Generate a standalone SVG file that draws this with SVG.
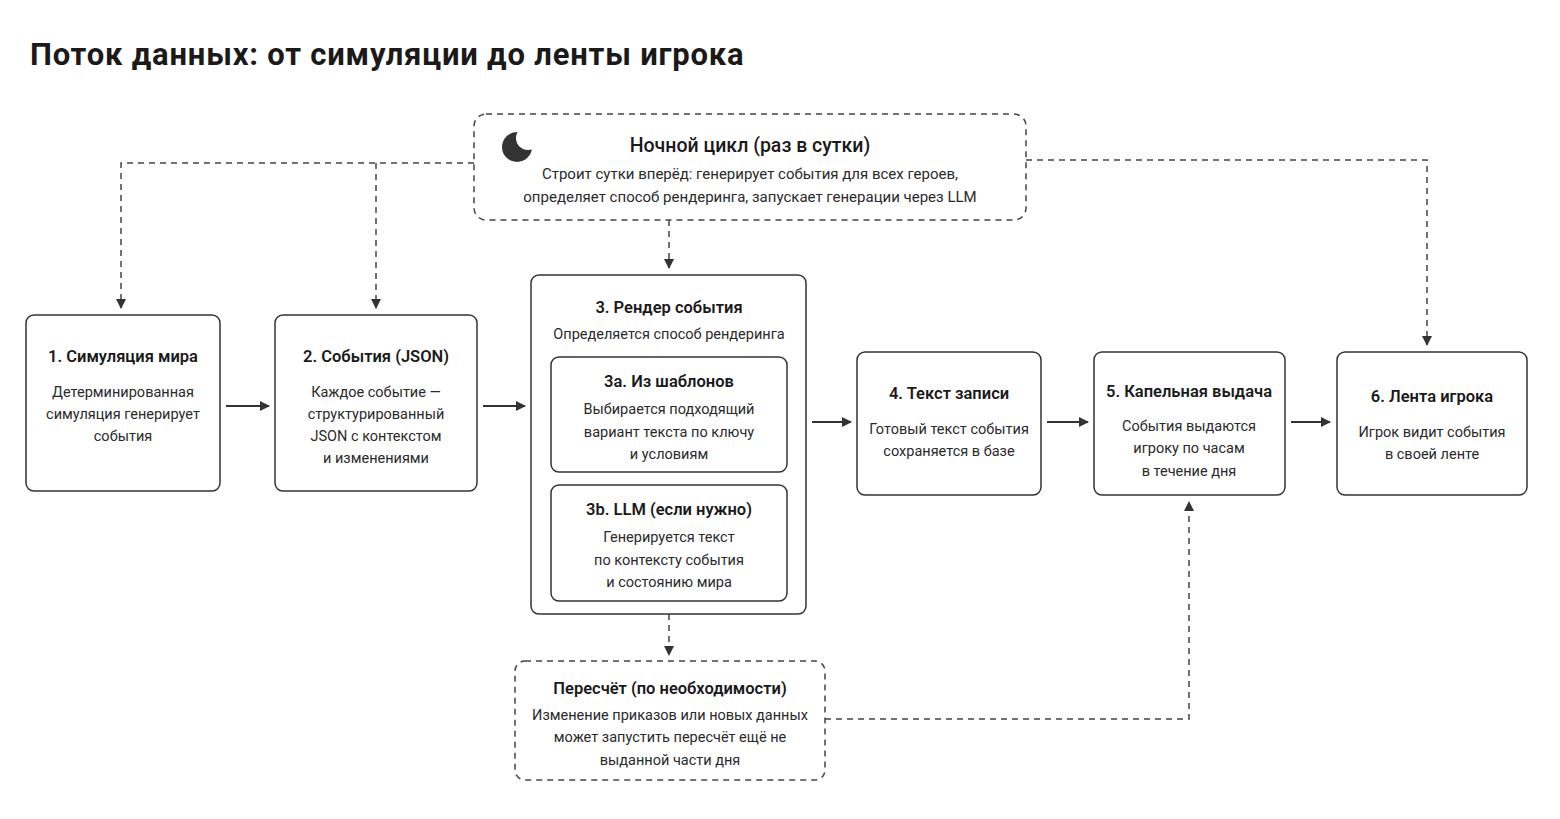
<svg xmlns="http://www.w3.org/2000/svg" width="1560" height="819" viewBox="0 0 1560 819">
<defs>
<marker id="a" viewBox="0 0 10 10" refX="9" refY="5" markerWidth="10" markerHeight="10" markerUnits="userSpaceOnUse" orient="auto"><path d="M0,0L10,5L0,10z" fill="#333"/></marker>
<mask id="m"><rect x="490" y="120" width="60" height="60" fill="#fff"/><circle cx="528" cy="138" r="12" fill="#000"/></mask>
<style>
text{font-family:Roboto,"Noto Sans",sans-serif;fill:#1a1a1a;text-anchor:middle}
.t{font-size:16.5px;font-weight:600}
.b{font-size:14.5px;fill:#2a2a2a}
.n{fill:#fff;stroke:#333;stroke-width:1.5}
.d{fill:#fff;stroke:#444;stroke-width:1.5;stroke-dasharray:6 5}
.s{fill:none;stroke:#333;stroke-width:2;marker-end:url(#a)}
.ds{fill:none;stroke:#444;stroke-width:1.5;stroke-dasharray:6 5;marker-end:url(#a)}
</style>
</defs>
<rect width="1560" height="819" fill="#fff"/>
<text x="30" y="65" style="text-anchor:start;font-size:31px;font-weight:700;letter-spacing:0.8px">Поток данных: от симуляции до ленты игрока</text>
<g id="connectors">
<path class="ds" d="M474,163H121V308"/>
<path class="ds" d="M376,163V308"/>
<path class="ds" d="M1026,160H1427V345"/>
<path class="ds" d="M669,220V268"/>
<path class="ds" d="M669,614V655"/>
<path class="ds" d="M825,719H1189V502"/>
<path class="s" d="M226,406H269"/>
<path class="s" d="M483,406H525"/>
<path class="s" d="M812,422H851"/>
<path class="s" d="M1047,422H1088"/>
<path class="s" d="M1291,422H1330"/>
</g>
<g id="night">
<rect class="d" x="474" y="114" width="552" height="106" rx="12"/>
<circle cx="517" cy="147" r="15" fill="#333" mask="url(#m)"/>
<text x="750" y="152" style="font-size:19.5px;font-weight:500">Ночной цикл (раз в сутки)</text>
<text class="b" x="750" y="179" style="font-size:15px">Строит сутки вперёд: генерирует события для всех героев,</text>
<text class="b" x="750" y="202" style="font-size:15px">определяет способ рендеринга, запускает генерации через LLM</text>
</g>
<g id="n1">
<rect class="n" x="26" y="315" width="194" height="176" rx="8"/>
<text class="t" x="123" y="362">1. Симуляция мира</text>
<text class="b" x="123" y="397">Детерминированная</text>
<text class="b" x="123" y="419">симуляция генерирует</text>
<text class="b" x="123" y="441">события</text>
</g>
<g id="n2">
<rect class="n" x="275" y="315" width="202" height="176" rx="8"/>
<text class="t" x="376" y="362">2. События (JSON)</text>
<text class="b" x="376" y="397">Каждое событие —</text>
<text class="b" x="376" y="419">структурированный</text>
<text class="b" x="376" y="441">JSON с контекстом</text>
<text class="b" x="376" y="463">и изменениями</text>
</g>
<g id="n3">
<rect class="n" x="531" y="275" width="275" height="339" rx="8"/>
<text class="t" x="669" y="313">3. Рендер события</text>
<text class="b" x="669" y="339">Определяется способ рендеринга</text>
</g>
<g id="n3a">
<rect class="n" x="551" y="357" width="236" height="115" rx="8"/>
<text class="t" x="669" y="387">3a. Из шаблонов</text>
<text class="b" x="669" y="414">Выбирается подходящий</text>
<text class="b" x="669" y="437">вариант текста по ключу</text>
<text class="b" x="669" y="459">и условиям</text>
</g>
<g id="n3b">
<rect class="n" x="551" y="485" width="236" height="116" rx="8"/>
<text class="t" x="669" y="515">3b. LLM (если нужно)</text>
<text class="b" x="669" y="542">Генерируется текст</text>
<text class="b" x="669" y="565">по контексту события</text>
<text class="b" x="669" y="587">и состоянию мира</text>
</g>
<g id="n4">
<rect class="n" x="857" y="352" width="184" height="143" rx="8"/>
<text class="t" x="949" y="399">4. Текст записи</text>
<text class="b" x="949" y="434">Готовый текст события</text>
<text class="b" x="949" y="456">сохраняется в базе</text>
</g>
<g id="n5">
<rect class="n" x="1094" y="352" width="191" height="143" rx="8"/>
<text class="t" x="1189" y="397">5. Капельная выдача</text>
<text class="b" x="1189" y="431">События выдаются</text>
<text class="b" x="1189" y="453">игроку по часам</text>
<text class="b" x="1189" y="476">в течение дня</text>
</g>
<g id="n6">
<rect class="n" x="1337" y="352" width="190" height="143" rx="8"/>
<text class="t" x="1432" y="402">6. Лента игрока</text>
<text class="b" x="1432" y="437">Игрок видит события</text>
<text class="b" x="1432" y="459">в своей ленте</text>
</g>
<g id="recalc">
<rect class="d" x="515" y="661" width="310" height="119" rx="10"/>
<text class="t" x="670" y="694">Пересчёт (по необходимости)</text>
<text class="b" x="670" y="720">Изменение приказов или новых данных</text>
<text class="b" x="670" y="742">может запустить пересчёт ещё не</text>
<text class="b" x="670" y="765">выданной части дня</text>
</g>
</svg>
